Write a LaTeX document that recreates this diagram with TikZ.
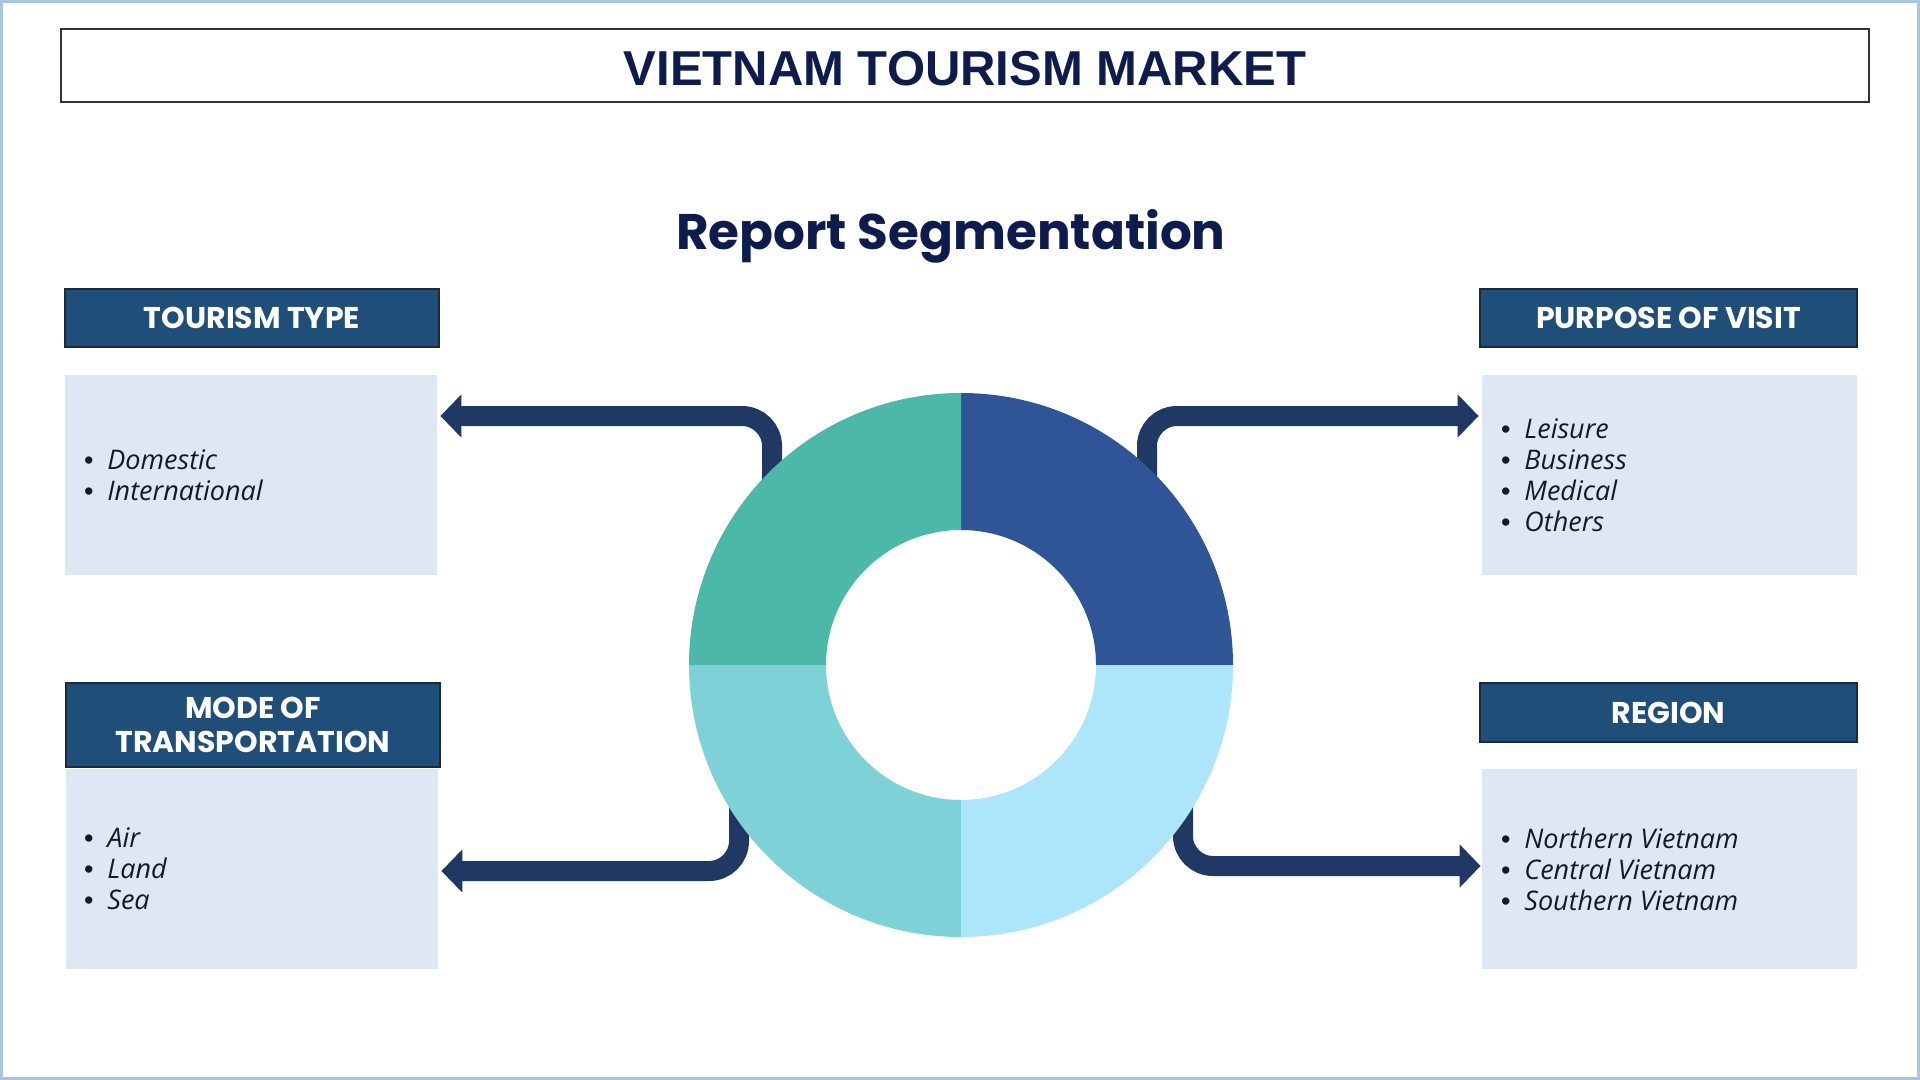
\documentclass[tikz,border=0pt]{standalone}
\usepackage{fontspec}
\setmainfont{Liberation Sans}
\newfontfamily\popfont{Poppins}
\newfontfamily\bulfont{Open Sans}
\newfontfamily\dotfont{Liberation Sans}
\usetikzlibrary{arrows.meta}
\definecolor{navy}{HTML}{0E1B4D}
\definecolor{hdrfill}{HTML}{1F4E79}
\definecolor{hdrborder}{HTML}{1C2B3C}
\definecolor{contfill}{HTML}{DEE8F4}
\definecolor{arrowc}{HTML}{1F3864}
\definecolor{outerc}{HTML}{A9C4DE}
\definecolor{txtc}{HTML}{151A22}
\definecolor{qtr}{HTML}{2F5597}
\definecolor{qtl}{HTML}{4BB8A9}
\definecolor{qbl}{HTML}{7FD1D8}
\definecolor{qbr}{HTML}{ADE6FA}
\newcommand\myblt{\makebox[11.7pt][l]{\dotfont\upshape •}}
\begin{document}
\begin{tikzpicture}[x=0.5pt,y=-0.5pt,
  titlebox/.style={draw=black!80, line width=1pt, fill=white, inner sep=0pt},
  titletxt/.style={text=navy, font=\bfseries\fontsize{24.5pt}{29pt}\selectfont, inner sep=0pt},
  subtxt/.style={text=navy, font=\popfont\bfseries\fontsize{25pt}{30pt}\selectfont, inner sep=0pt},
  hdr/.style={draw=hdrborder, line width=1pt, fill=hdrfill, text=white,
    font=\popfont\bfseries\fontsize{15pt}{17pt}\selectfont, inner sep=0pt, align=center},
  cont/.style={fill=contfill, inner sep=0pt, minimum height=100pt},
  blist/.style={font=\bulfont\itshape\fontsize{13.5pt}{15.5pt}\selectfont, align=left, inner sep=0pt, text=txtc, anchor=west},
  arr/.style={draw=arrowc, line width=10pt, rounded corners=15pt, -{Triangle[length=10.5pt,width=21pt]}}
]
\useasboundingbox (0,0) rectangle (1920,1080);
\fill[white] (0,0) rectangle (1920,1080);
\draw[outerc, line width=1.5pt] (1.5,1.5) rectangle (1918.5,1078.5);

% title
\node[titlebox, minimum width=904pt, minimum height=36.5pt] (tbox) at (965,65.5) {};
\node[titletxt, anchor=base] (title) at (965,86) {VIETNAM TOURISM MARKET};
\node[subtxt, anchor=base] (sub) at (951,250) {Report Segmentation};

% headers
\node[hdr, minimum width=187pt, minimum height=29pt] (thdr) at (252,318) {TOURISM TYPE};
\node[hdr, minimum width=187pt, minimum height=42pt] (mhdr) at (253,725) {MODE OF\\TRANSPORTATION};
\node[hdr, minimum width=188.5pt, minimum height=29pt] (phdr) at (1668.5,318) {PURPOSE OF VISIT};
\node[hdr, minimum width=188.5pt, minimum height=29.5pt] (rhdr) at (1668.5,712.5) {REGION};

% content boxes
\node[cont, minimum width=186pt] (tcont) at (251,475) {};
\node[cont, minimum width=186pt] (mcont) at (252,869) {};
\node[cont, minimum width=187.5pt] (pcont) at (1669.5,475) {};
\node[cont, minimum width=187.5pt] (rcont) at (1669.5,869) {};

% lists
\node[blist] (tlist) at (83.6,475) {\myblt Domestic\\\myblt International};
\node[blist] (mlist) at (83.6,869) {\myblt Air\\\myblt Land\\\myblt Sea};
\node[blist] (plist) at (1500.6,475) {\myblt Leisure\\\myblt Business\\\myblt Medical\\\myblt Others};
\node[blist] (rlist) at (1500.6,869) {\myblt Northern Vietnam\\\myblt Central Vietnam\\\myblt Southern Vietnam};

% arrows
\coordinate (a1s) at (772,520); \coordinate (a1c) at (772,416);
\coordinate (a2s) at (739,790); \coordinate (a2c) at (739,871);
\coordinate (a3s) at (1147,520); \coordinate (a3c) at (1147,416);
\coordinate (a4s) at (1183,790); \coordinate (a4c) at (1183,866);
\draw[arr] (a1s) -- (a1c) -- ([xshift=1.5pt]a1c -| tcont.east);
\draw[arr] (a2s) -- (a2c) -- ([xshift=1.5pt]a2c -| mcont.east);
\draw[arr] (a3s) -- (a3c) -- ([xshift=-1.5pt]a3c -| pcont.west);
\draw[arr] (a4s) -- (a4c) -- ([xshift=-0.5pt]a4c -| rcont.west);

% donut
\begin{scope}[shift={(961,665)}, x=0.5pt, y=0.5pt]
\fill[qtr] (0:272) arc[start angle=0, end angle=90, radius=272] -- (90:135) arc[start angle=90, end angle=0, radius=135] -- cycle;
\fill[qtl] (90:272) arc[start angle=90, end angle=180, radius=272] -- (180:135) arc[start angle=180, end angle=90, radius=135] -- cycle;
\fill[qbl] (180:272) arc[start angle=180, end angle=270, radius=272] -- (270:135) arc[start angle=270, end angle=180, radius=135] -- cycle;
\fill[qbr] (270:272) arc[start angle=270, end angle=360, radius=272] -- (0:135) arc[start angle=360, end angle=270, radius=135] -- cycle;
\end{scope}
\end{tikzpicture}
\end{document}
